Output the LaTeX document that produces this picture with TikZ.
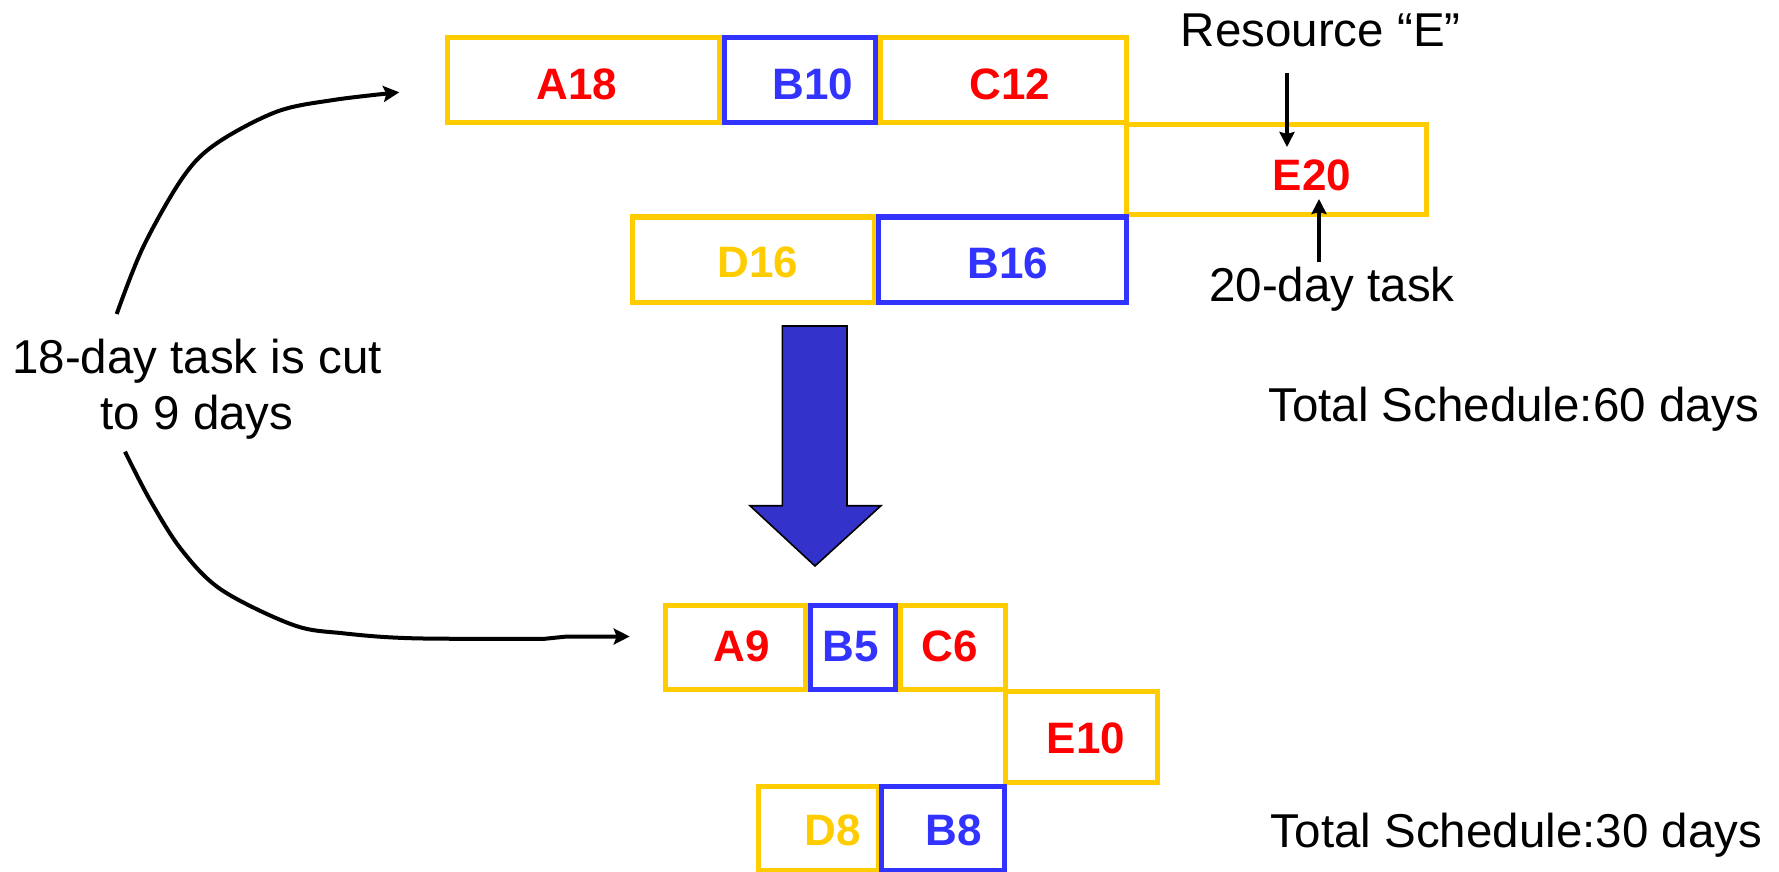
\documentclass[tikz,border=0pt]{standalone}
\usepackage{fontspec}
\setmainfont{Liberation Sans}
\usetikzlibrary{arrows.meta}
\definecolor{gold}{HTML}{FFCC00}
\definecolor{bblue}{HTML}{3333FF}
\definecolor{rred}{HTML}{FF0000}
\definecolor{afill}{HTML}{3333CC}
\begin{document}
\begin{tikzpicture}[x=0.5pt,y=-0.5pt,
  sz/.style 2 args={minimum width=#1*0.5pt, minimum height=#2*0.5pt},
  ybox/.style={draw=gold, line width=2.5pt, inner sep=0pt},
  bbox/.style={draw=bblue, line width=2.5pt, inner sep=0pt},
  lbl/.style={font=\fontsize{22}{26}\selectfont\bfseries, anchor=base, inner sep=0pt},
  reg/.style={font=\fontsize{23.75}{28}\selectfont, anchor=base, inner sep=0pt},
  curve/.style={line width=2pt, -{Stealth[length=8pt,width=8pt,inset=1.5pt]}},
  pointer/.style={line width=2pt, -{Stealth[length=7.5pt,width=7.5pt,inset=1pt]}}]
\useasboundingbox (0,0) rectangle (1779,872);
\fill[white] (0,0) rectangle (1779,872);

% top schedule
\node[ybox, sz={272}{84.5}] (A18) at (583,80.25) {};
\node[bbox, sz={151}{84.5}] (B10) at (799.5,80.25) {};
\node[ybox, sz={246}{84.5}] (C12) at (1003,80.25) {};
\node[ybox, sz={300}{90.7}] (E20) at (1276.7,169.65) {};
\node[ybox, sz={242}{85}] (D16) at (753,259.5) {};
\node[bbox, sz={248}{85}] (B16) at (1002,259.5) {};

\node[lbl, text=rred] (tA18) at (577,100) {A18};
\node[lbl, text=bblue] (tB10) at (813,100) {B10};
\node[lbl, text=rred] (tC12) at (1010,100) {C12};
\node[lbl, text=rred] (tE20) at (1312,190.7) {E20};
\node[lbl, text=gold] (tD16) at (758,278) {D16};
\node[lbl, text=bblue] (tB16) at (1008,278.3) {B16};

% bottom schedule
\node[ybox, sz={140}{84.3}] (A9) at (735,647.15) {};
\node[bbox, sz={85}{84.3}] (B5) at (852.5,647.15) {};
\node[ybox, sz={105}{84.3}] (C6) at (952.5,647.15) {};
\node[ybox, sz={151.6}{91.3}] (E10) at (1081.5,736.65) {};
\node[ybox, sz={120}{83.3}] (D8) at (818.3,828.35) {};
\node[bbox, sz={122.3}{83.3}] (B8) at (942.85,828.35) {};

\node[lbl, text=rred] (tA9) at (741.7,661) {A9};
\node[lbl, text=bblue] (tB5) at (851,661) {B5};
\node[lbl, text=rred] (tC6) at (949.5,661) {C6};
\node[lbl, text=rred] (tE10) at (1086,753.3) {E10};
\node[lbl, text=gold] (tD8) at (832.5,845) {D8};
\node[lbl, text=bblue] (tB8) at (954,845) {B8};

% labels
\node[reg] (res) at (1320.8,46.7) {Resource “E”};
\node[reg] (task) at (1332,301.7) {20-day task};
\node[reg] (tot60) at (1514,421.7) {Total Schedule:60 days};
\node[reg] (tot30) at (1516.5,847.7) {Total Schedule:30 days};
\node[font=\fontsize{23.75}{28}\selectfont, align=center, inner sep=0pt] (cut) at (197,389) {18-day task is cut\\to 9 days};

% pointers to E20
\coordinate (rs) at (1287,73);
\coordinate (rt) at (1287,147);
\coordinate (ts) at (1319,262);
\coordinate (tt) at (1319,199);
\draw[pointer] (rs) -- (rt);
\draw[pointer] (ts) -- (tt);

% curved arrows
\coordinate (us) at (116.7,314);
\coordinate (ut) at (399.3,92.3);
\coordinate (ls) at (125,451.7);
\coordinate (lt) at (629.7,636.5);
\draw[curve] plot[smooth, tension=0.55] coordinates {(us) (143.3,246.7) (183.3,176.7) (216.7,143.3) (276.7,111.7) (333.3,100) (ut)};
\draw[curve] plot[smooth, tension=0.55] coordinates {(ls) (150,500) (181.7,550) (221.7,590) (293.3,625) (343.3,633.3) (413.3,638.3) (544.6,638.8)} -- (567,636.5) -- (lt);

% big down arrow
\draw[line width=0.8pt, fill=afill, line join=miter] (782.3,326) -- (847,326) -- (847,505.7) -- (881,505.7) -- (815,566) -- (750,505.7) -- (782.3,505.7) -- cycle;
\end{tikzpicture}
\end{document}
